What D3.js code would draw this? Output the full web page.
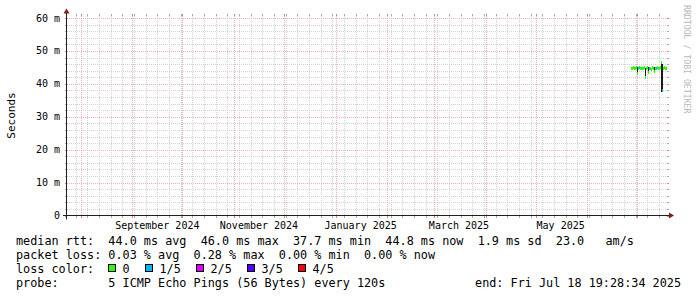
<!DOCTYPE html>
<html><head><meta charset="utf-8">
<script src="https://cdn.jsdelivr.net/npm/d3@7"></script>
<style>
html,body{margin:0;padding:0;background:#fff;}
svg{display:block;}
text{font-family:"DejaVu Sans Mono",monospace;}
</style></head>
<body><svg id="c" width="697" height="297"></svg>
<script>
// ---- data ----
const endTime = new Date(2025, 6, 18, 19, 28, 34);
const rangeDays = 360;
const rrdStepSec = 51840;               // consolidation step (one pixel)
const firstSample = new Date(2025, 5, 27, 0, 0, 0);
// median rtt (ms) per step
const median = [44.7,44.9,45.0,44.9,44.8,45.1,43.3,44.9,45.0,44.8,44.9,44.7,44.9,45.0,42.2,44.8,45.1,43.7,44.9,44.8,44.6,45.0,44.9,43.8,44.8,44.9,45.0,44.7,44.9,45.0,46.5,38.2,44.9,45.0,44.8,44.9];
// smoke low / high (ms)
const smokeLo = [44.4,44.6,44.7,44.6,44.5,44.7,42.7,44.5,44.6,44.4,44.5,44.4,44.6,44.7,41.6,44.4,44.7,43.2,44.5,44.5,44.3,44.7,44.6,43.2,44.5,44.6,44.7,44.4,44.6,44.6,37.6,37.6,44.6,44.7,44.5,44.6];
const smokeHi = [45.0,45.2,45.3,45.2,45.1,45.4,45.0,45.2,45.3,45.1,45.2,45.0,45.2,45.3,44.9,45.1,45.4,45.0,45.2,45.1,44.9,45.3,45.2,45.0,45.1,45.2,45.3,45.0,45.2,45.3,46.8,46.0,45.2,45.3,45.1,45.2];
// lost pings out of 5 per step
const loss = [0,0,0,0,0,0,0,0,1,0,0,0,0,0,0,0,0,0,1,0,0,0,0,0,0,1,0,0,0,0,0,1,0,0,0,0];
const yTicks = [0, 10, 20, 30, 40, 50, 60];          // ms
const yTickLabels = ["0", "10 m", "20 m", "30 m", "40 m", "50 m", "60 m"];
const xLabelMonths = [new Date(2024,8,1), new Date(2024,10,1), new Date(2025,0,1), new Date(2025,2,1), new Date(2025,4,1)];
const xLabelTexts = ["September 2024", "November 2024", "January 2025", "March 2025", "May 2025"];
const lossLabels = ["0", "1/5", "2/5", "3/5", "4/5"];
const lossColors = ["#26ff00", "#00b8ff", "#dd00ff", "#5500ff", "#ff0000"];
const legendRows = [
  "median rtt:  44.0 ms avg  46.0 ms max  37.7 ms min  44.8 ms now  1.9 ms sd  23.0   am/s",
  "packet loss: 0.03 % avg  0.28 % max  0.00 % min  0.00 % now"
];
const probeText = "probe:       5 ICMP Echo Pings (56 Bytes) every 120s";
const endText = "end: Fri Jul 18 19:28:34 2025";

// ---- layout ----
const X0 = 67, XS = 600, Y0 = 215.5, YS = 200;
const startTime = new Date(endTime.getTime() - rangeDays*86400000);
const x = d3.scaleTime().domain([startTime, endTime]).range([X0, X0+XS]);
const y = d3.scaleLinear().domain([0, 60.76]).range([Y0, Y0-YS]);
const svg = d3.select("#c");

const gridCol = "#d2d2d2";
const mgridCol = "#f0b0b0";

// minor horizontal grid every 2 ms
const yMinor = d3.range(0, 60.01, 2).filter(v => !yTicks.some(t => Math.abs(t-v) < 1e-9));
const g = svg.append("g").attr("shape-rendering","crispEdges");
yMinor.forEach(v => {
  const yy = Math.round(y(v)) + 0.5;
  g.append("line").attr("x1",X0).attr("x2",X0+XS).attr("y1",yy).attr("y2",yy)
   .attr("stroke",gridCol).attr("stroke-dasharray","1,1");
  g.append("line").attr("x1",X0-2).attr("x2",X0).attr("y1",yy).attr("y2",yy).attr("stroke","#aaa");
  g.append("line").attr("x1",X0+XS).attr("x2",X0+XS+2).attr("y1",yy).attr("y2",yy).attr("stroke","#aaa");
});
// minor vertical grid weekly (Mondays)
const weeks = d3.timeMonday.range(startTime, endTime);
const months = d3.timeMonth.range(startTime, endTime);
weeks.forEach(w => {
  const xx = Math.round(x(w)) + 0.5;
  g.append("line").attr("x1",xx).attr("x2",xx).attr("y1",Y0-YS).attr("y2",Y0)
   .attr("stroke",gridCol).attr("stroke-dasharray","1,1");
  g.append("line").attr("x1",xx).attr("x2",xx).attr("y1",Y0).attr("y2",Y0+2).attr("stroke","#aaa");
  g.append("line").attr("x1",xx).attr("x2",xx).attr("y1",Y0-YS-2).attr("y2",Y0-YS).attr("stroke","#aaa");
});
// major horizontal
yTicks.forEach(v => {
  const yy = Math.round(y(v)) + 0.5;
  if (v > 0) g.append("line").attr("x1",X0).attr("x2",X0+XS).attr("y1",yy).attr("y2",yy)
   .attr("stroke",mgridCol).attr("stroke-dasharray","1,1");
  g.append("line").attr("x1",X0-2).attr("x2",X0).attr("y1",yy).attr("y2",yy).attr("stroke","#d88080");
  g.append("line").attr("x1",X0+XS).attr("x2",X0+XS+2).attr("y1",yy).attr("y2",yy).attr("stroke","#d88080");
});
// major vertical monthly
months.forEach(m => {
  const xx = Math.round(x(m)) + 0.5;
  g.append("line").attr("x1",xx).attr("x2",xx).attr("y1",Y0-YS).attr("y2",Y0)
   .attr("stroke",mgridCol).attr("stroke-dasharray","1,1");
  g.append("line").attr("x1",xx).attr("x2",xx).attr("y1",Y0).attr("y2",Y0+2).attr("stroke","#d88080");
  g.append("line").attr("x1",xx).attr("x2",xx).attr("y1",Y0-YS-2).attr("y2",Y0-YS).attr("stroke","#d88080");
});

// ---- data marks ----
const sampleTimes = median.map((_, i) => new Date(firstSample.getTime() + i*rrdStepSec*1000));
const dg = svg.append("g").attr("shape-rendering","crispEdges");
sampleTimes.forEach((t, i) => {
  const xx = Math.round(x(t));
  const y1 = Math.round(y(smokeHi[i])), y2 = Math.round(y(smokeLo[i]));
  dg.append("rect").attr("x", xx).attr("width", 1)
    .attr("y", y1).attr("height", Math.max(1, y2 - y1))
    .attr("fill", "#1a1a1a");
});
sampleTimes.forEach((t, i) => {
  const xx = Math.round(x(t));
  dg.append("rect").attr("x", xx).attr("width", 1)
    .attr("y", Math.round(y(median[i])) - 1).attr("height", 3)
    .attr("fill", lossColors[loss[i]]);
});

// ---- axes ----
const ax = svg.append("g");
ax.append("line").attr("x1",X0-4).attr("x2",X0+XS+4).attr("y1",Y0).attr("y2",Y0)
  .attr("stroke","#1f1f1f").attr("stroke-width",1);
ax.append("line").attr("x1",X0-0.5).attr("x2",X0-0.5).attr("y1",Y0+4).attr("y2",Y0-YS-4)
  .attr("stroke","#1f1f1f").attr("stroke-width",1);
ax.append("path").attr("d",`M${X0+XS+2},${Y0-3}L${X0+XS+2},${Y0+3}L${X0+XS+7},${Y0}Z`).attr("fill","#801f1f");
ax.append("path").attr("d",`M${X0-3.5},${Y0-YS-2}L${X0+2.5},${Y0-YS-2}L${X0-0.5},${Y0-YS-7}Z`).attr("fill","#801f1f");

// y tick labels
yTicks.forEach((v, i) => {
  svg.append("text").attr("x", X0-7).attr("y", y(v)).attr("dy","0.35em")
    .attr("text-anchor","end").attr("font-size","10px").attr("fill","#000").text(yTickLabels[i]);
});
// x labels (centered half a month after label month)
xLabelMonths.forEach((m, i) => {
  const t = new Date(m.getTime() + 15*86400000);
  svg.append("text").attr("x", x(t)).attr("y", Y0+13).attr("text-anchor","middle")
    .attr("font-size","10px").attr("fill","#000").text(xLabelTexts[i]);
});
// y axis title
svg.append("text").attr("transform", `translate(15,${Y0-YS/2}) rotate(-90)`)
  .attr("text-anchor","middle").attr("font-size","11px").attr("fill","#000").text("Seconds");
// watermark
svg.append("text").attr("transform", `translate(684,5) rotate(90)`)
  .attr("text-anchor","start").attr("font-size","8.2px").attr("fill","#b8b8b8").text("RRDTOOL / TOBI OETIKER");

// ---- legend ----
const LX = 16, FS = "11.8px";
legendRows.forEach((s, i) => {
  svg.append("text").attr("x", LX).attr("y", 245 + i*14).attr("font-size", FS)
    .style("white-space","pre").attr("fill","#000").text(s);
});
svg.append("text").attr("x", LX).attr("y", 273).attr("font-size", FS)
  .style("white-space","pre").attr("fill","#000").text("loss color:");
const boxX = [108.5, 145.5, 196.5, 247.5, 298.5];
lossLabels.forEach((l, i) => {
  svg.append("rect").attr("x", boxX[i]).attr("y", 264.5).attr("width", 7).attr("height", 7)
    .attr("fill", lossColors[i]).attr("stroke","#000").attr("stroke-width",1);
  svg.append("text").attr("x", boxX[i]+14).attr("y", 273).attr("font-size", FS).attr("fill","#000").text(l);
});
svg.append("text").attr("x", LX).attr("y", 287).attr("font-size", FS)
  .style("white-space","pre").attr("fill","#000").text(probeText);
svg.append("text").attr("x", 681).attr("y", 287).attr("font-size", FS).attr("text-anchor","end")
  .style("white-space","pre").attr("fill","#000").text(endText);
</script></body></html>
